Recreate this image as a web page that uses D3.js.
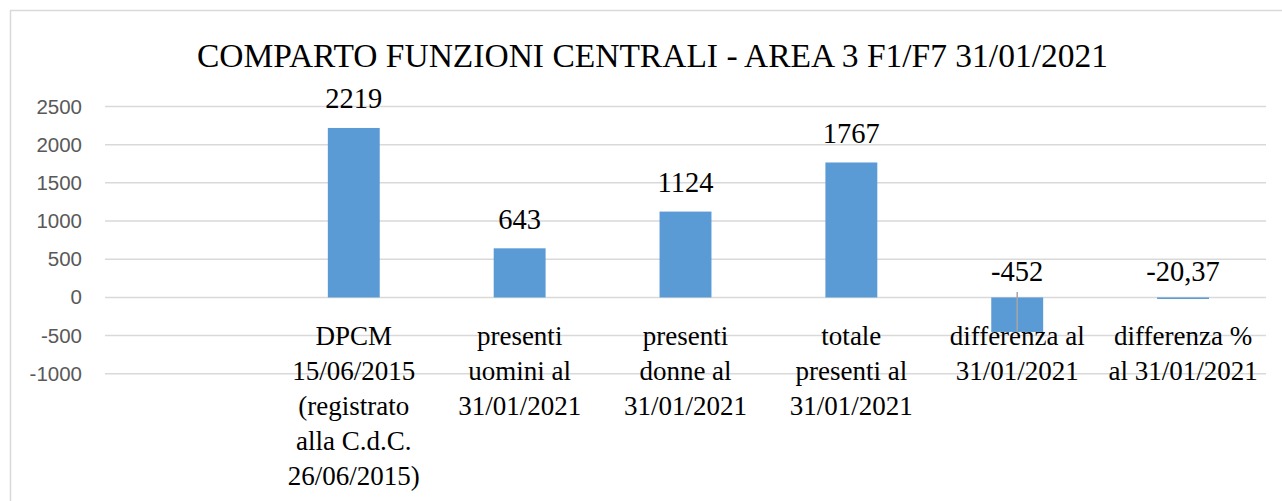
<!DOCTYPE html>
<html>
<head>
<meta charset="utf-8">
<script src="https://cdn.jsdelivr.net/npm/d3@7"></script>
<style>
  html, body { margin: 0; padding: 0; background: #ffffff; }
  svg { display: block; }
</style>
</head>
<body>
<svg id="chart" width="1282" height="501"></svg>
<script>
// ---- data ----
const title = "COMPARTO FUNZIONI CENTRALI - AREA 3 F1/F7 31/01/2021";
const categories = ["", "DPCM", "presenti uomini", "presenti donne", "totale presenti", "differenza", "differenza %"];
const categoryLines = [
  [],
  ["DPCM", "15/06/2015", "(registrato", "alla C.d.C.", "26/06/2015)"],
  ["presenti", "uomini al", "31/01/2021"],
  ["presenti", "donne al", "31/01/2021"],
  ["totale", "presenti al", "31/01/2021"],
  ["differenza al", "31/01/2021"],
  ["differenza %", "al 31/01/2021"]
];
const values = [null, 2219, 643, 1124, 1767, -452, -20.37];
const valueLabels = ["", "2219", "643", "1124", "1767", "-452", "-20,37"];
const yTicks = [-1000, -500, 0, 500, 1000, 1500, 2000, 2500];
const yTickLabels = ["-1000", "-500", "0", "500", "1000", "1500", "2000", "2500"];
// leader line (label -> bar) for the "differenza" point, in data units
const leaderFrom = [null, null, null, null, null, 70, null];

// ---- layout ----
const svg = d3.select("#chart");
const W = 1282, H = 501;
const plot = { left: 105, right: 1266, top: 106.5, bottom: 373.8 };

// chart border
svg.append("rect")
  .attr("x", 10.5).attr("y", 10.5)
  .attr("width", W + 20).attr("height", H + 20)
  .attr("fill", "#ffffff")
  .attr("stroke", "#d9d9d9").attr("stroke-width", 1.5);

const x = d3.scaleBand()
  .domain(categories)
  .range([plot.left, plot.right])
  .paddingInner(0.687)
  .paddingOuter(0.687 / 2);

const y = d3.scaleLinear()
  .domain([-1000, 2500])
  .range([plot.bottom, plot.top]);

// gridlines
svg.append("g")
  .selectAll("line")
  .data(yTicks)
  .join("line")
  .attr("x1", plot.left).attr("x2", plot.right)
  .attr("y1", d => y(d)).attr("y2", d => y(d))
  .attr("stroke", "#d9d9d9").attr("stroke-width", 1.5);

// y axis
const yAxis = svg.append("g")
  .attr("transform", `translate(${plot.left},0)`)
  .call(d3.axisLeft(y).tickValues(yTicks).tickSize(0).tickPadding(23)
    .tickFormat((d, i) => yTickLabels[i]));
yAxis.select(".domain").remove();
yAxis.selectAll("text")
  .attr("fill", "#595959")
  .style("font-family", "'Liberation Sans', Arial, sans-serif")
  .style("font-size", "20.5px");

// bars
svg.append("g")
  .selectAll("rect")
  .data(values.map((v, i) => ({ v, c: categories[i] })).filter(d => d.v !== null))
  .join("rect")
  .attr("x", d => x(d.c))
  .attr("width", x.bandwidth())
  .attr("y", d => y(Math.max(0, d.v)))
  .attr("height", d => Math.max(1.5, Math.abs(y(d.v) - y(0))))
  .attr("fill", "#5b9bd5");

// leader lines
svg.append("g")
  .selectAll("line")
  .data(leaderFrom.map((v, i) => ({ v, c: categories[i], end: values[i] })).filter(d => d.v !== null))
  .join("line")
  .attr("x1", d => x(d.c) + x.bandwidth() / 2)
  .attr("x2", d => x(d.c) + x.bandwidth() / 2)
  .attr("y1", d => y(d.v))
  .attr("y2", d => y(d.end))
  .attr("stroke", "#a6a6a6").attr("stroke-width", 1.5);

// data labels
svg.append("g")
  .selectAll("text")
  .data(values.map((v, i) => ({ v, c: categories[i], t: valueLabels[i] })).filter(d => d.v !== null))
  .join("text")
  .attr("x", d => x(d.c) + x.bandwidth() / 2)
  .attr("y", d => d.v >= 0 ? y(d.v) - 19.5 : y(0) - 16)
  .attr("text-anchor", "middle")
  .attr("fill", "#000000")
  .style("font-family", "'Liberation Serif', 'Times New Roman', serif")
  .style("font-size", "28.5px")
  .text(d => d.t);

// category axis labels
const xAxis = svg.append("g")
  .attr("transform", `translate(0,${y(0)})`)
  .call(d3.axisBottom(x).tickSize(0).tickFormat(""));
xAxis.select(".domain").remove();
xAxis.selectAll(".tick").each(function(d, i) {
  const t = d3.select(this).append("text")
    .attr("text-anchor", "middle")
    .attr("fill", "#000000")
    .style("font-family", "'Liberation Serif', 'Times New Roman', serif")
    .style("font-size", "27px");
  categoryLines[i].forEach((line, k) => {
    t.append("tspan").attr("x", 0).attr("y", 47.5 + k * 35).text(line);
  });
});

// title
svg.append("text")
  .attr("x", 652.5)
  .attr("y", 67)
  .attr("text-anchor", "middle")
  .attr("fill", "#000000")
  .style("font-family", "'Liberation Serif', 'Times New Roman', serif")
  .style("font-size", "33.5px")
  .text(title);
</script>
</body>
</html>
